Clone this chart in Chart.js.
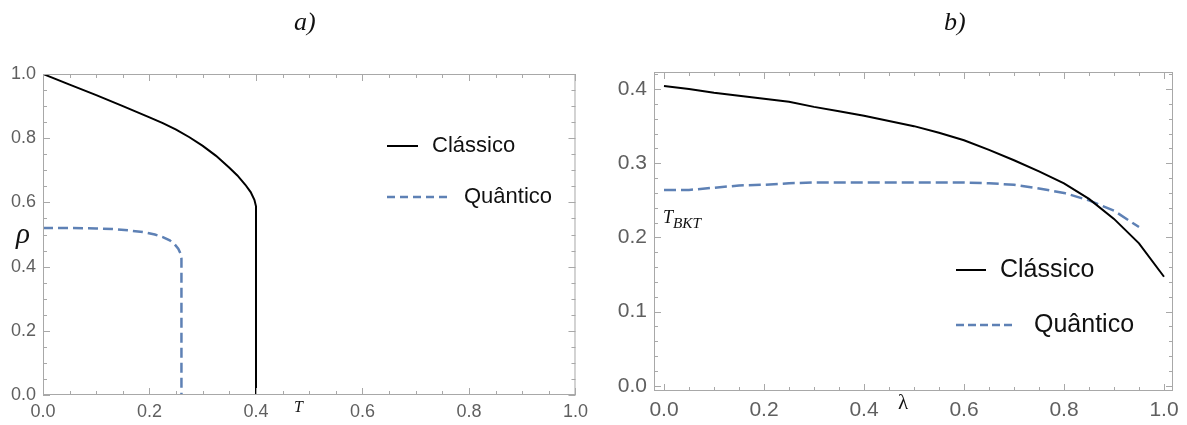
<!DOCTYPE html>
<html>
<head>
<meta charset="utf-8">
<script src="https://cdn.jsdelivr.net/npm/chart.js@4.4.0/dist/chart.umd.min.js"></script>
<style>
  body { margin: 0; background: #fff; width: 1187px; height: 425px; position: relative; overflow: hidden; }
  canvas { position: absolute; top: 0; }
  .m { position: absolute; font-family: "Liberation Serif", serif; font-style: italic; color: #111; line-height: 1; white-space: nowrap; }
  .m sub { font-size: 0.85em; vertical-align: -0.3em; }
</style>
</head>
<body>
<canvas id="chartA" width="594" height="425" style="left:0"></canvas>
<canvas id="chartB" width="593" height="425" style="left:594px"></canvas>

<div class="m" style="left:294px; top:9px; font-size:26px">a)</div>
<div class="m" style="left:944px; top:9px; font-size:26px">b)</div>
<div class="m" style="left:16px; top:219px; font-size:29px">ρ</div>
<div class="m" style="left:294px; top:399px; font-size:16px">T</div>
<div class="m" style="left:898px; top:392px; font-size:21px; font-style:normal">λ</div>
<div class="m" style="left:663px; top:208px; font-size:18px">T<sub>BKT</sub></div>

<script>
// painel a) : rho x T
const tempClassico = [0, 0.05, 0.1, 0.15, 0.2, 0.225, 0.25, 0.275, 0.3, 0.325, 0.35, 0.365, 0.38, 0.39, 0.397, 0.4, 0.4];
const rhoClassico  = [1.0, 0.967, 0.934, 0.9, 0.865, 0.847, 0.827, 0.803, 0.776, 0.745, 0.708, 0.684, 0.655, 0.632, 0.608, 0.588, 0];
const tempQuantico = [0, 0.05, 0.1, 0.13, 0.16, 0.19, 0.21, 0.225, 0.238, 0.247, 0.254, 0.258, 0.26, 0.26];
const rhoQuantico  = [0.52, 0.52, 0.519, 0.517, 0.513, 0.507, 0.5, 0.492, 0.482, 0.47, 0.456, 0.442, 0.425, 0];

// painel b) : T_BKT x lambda
const lambdaClassico = [0, 0.05, 0.1, 0.15, 0.2, 0.25, 0.3, 0.35, 0.4, 0.45, 0.5, 0.55, 0.6, 0.65, 0.7, 0.75, 0.8, 0.85, 0.9, 0.95, 1.0];
const tbktClassico   = [0.404, 0.4, 0.395, 0.391, 0.387, 0.383, 0.376, 0.37, 0.364, 0.357, 0.35, 0.341, 0.331, 0.318, 0.304, 0.289, 0.273, 0.252, 0.225, 0.192, 0.147];
const lambdaQuantico = [0, 0.05, 0.1, 0.15, 0.2, 0.25, 0.3, 0.35, 0.4, 0.45, 0.5, 0.55, 0.6, 0.65, 0.7, 0.75, 0.8, 0.85, 0.9, 0.95];
const tbktQuantico   = [0.264, 0.264, 0.267, 0.27, 0.271, 0.273, 0.274, 0.274, 0.274, 0.274, 0.274, 0.274, 0.274, 0.273, 0.271, 0.266, 0.26, 0.25, 0.236, 0.214];

const seriesNames = ['Clássico', 'Quântico'];
const ticksAx = [0, 0.2, 0.4, 0.6, 0.8, 1.0];
const ticksAy = [0, 0.2, 0.4, 0.6, 0.8, 1.0];
const ticksBx = [0, 0.2, 0.4, 0.6, 0.8, 1.0];
const ticksBy = [0, 0.1, 0.2, 0.3, 0.4];

const BLUE = '#5e81b5';
const GREY = '#a8a8a8';
const LABEL = '#5f5f5f';

const toPoints = (xs, ys) => xs.map((x, i) => ({ x: x, y: ys[i] }));

function steps(from, to, step) {
    const out = [];
    const n = Math.round((to - from) / step);
    for (let i = 0; i <= n; i++) out.push(+(from + i * step).toFixed(4));
    return out;
}

// moldura com marcas para dentro (estilo Mathematica) + legenda dentro do grafico
const framePlugin = {
    id: 'frame',
    afterDatasetsDraw(chart, args, opts) {
        const { ctx, chartArea: a } = chart;
        const x = chart.scales.x, y = chart.scales.y;
        ctx.save();
        ctx.strokeStyle = GREY;
        ctx.lineWidth = 1;
        ctx.strokeRect(a.left + 0.5, a.top + 0.5, a.right - a.left - 1, a.bottom - a.top - 1);
        ctx.beginPath();
        steps(opts.x[0], opts.x[1], opts.x[2]).forEach(v => {
            const px = Math.round(x.getPixelForValue(v)) + 0.5;
            const len = opts.majorX.includes(v) ? 7 : 4;
            ctx.moveTo(px, a.bottom); ctx.lineTo(px, a.bottom - len);
            ctx.moveTo(px, a.top); ctx.lineTo(px, a.top + len);
        });
        steps(opts.y[0], opts.y[1], opts.y[2]).forEach(v => {
            const py = Math.round(y.getPixelForValue(v)) + 0.5;
            const len = opts.majorY.includes(v) ? 7 : 4;
            ctx.moveTo(a.left, py); ctx.lineTo(a.left + len, py);
            ctx.moveTo(a.right, py); ctx.lineTo(a.right - len, py);
        });
        ctx.stroke();

        const lg = opts.legend;
        ctx.font = lg.size + 'px "Liberation Sans", Arial, sans-serif';
        ctx.textBaseline = 'middle';
        ctx.fillStyle = '#111';
        chart.data.datasets.forEach((ds, i) => {
            const yy = a.top + lg.rows[i];
            const x0 = a.left + lg.x;
            ctx.strokeStyle = ds.borderColor;
            ctx.lineWidth = ds.borderWidth;
            ctx.setLineDash(lg.dash[i]);
            ctx.beginPath();
            ctx.moveTo(x0, yy);
            ctx.lineTo(x0 + lg.sample[i], yy);
            ctx.stroke();
            ctx.setLineDash([]);
            ctx.fillText(ds.label, x0 + lg.text[i], yy);
        });
        ctx.restore();
    }
};

function axis(min, max, majors, size, pad, fit) {
    return {
        type: 'linear',
        min: min,
        max: max,
        afterBuildTicks: s => { s.ticks = majors.map(v => ({ value: v })); },
        afterFit: fit,
        ticks: {
            callback: v => v.toFixed(1),
            color: LABEL,
            font: { family: 'Liberation Sans', size: size },
            padding: pad,
            maxRotation: 0,
            autoSkip: false
        },
        grid: { display: false, drawTicks: false, tickLength: 0 },
        border: { display: false }
    };
}

const common = {
    responsive: false,
    animation: false,
    devicePixelRatio: 1,
    plugins: { legend: { display: false }, tooltip: { enabled: false } },
    elements: { point: { radius: 0 }, line: { tension: 0 } }
};

new Chart(document.getElementById('chartA'), {
    type: 'line',
    data: {
        datasets: [
            { label: seriesNames[0], data: toPoints(tempClassico, rhoClassico), borderColor: '#000', borderWidth: 2, fill: false },
            { label: seriesNames[1], data: toPoints(tempQuantico, rhoQuantico), borderColor: BLUE, borderWidth: 2.5, borderDash: [10, 5], fill: false }
        ]
    },
    options: Object.assign({}, common, {
        layout: { padding: { top: 74, right: 17, left: 0, bottom: 0 } },
        scales: {
            x: axis(0, 1, ticksAx, 18, 6, s => { s.height = 30; }),
            y: axis(0, 1, ticksAy, 18, 7, s => { s.width = 43; })
        },
        plugins: Object.assign({}, common.plugins, {
            frame: {
                x: [0, 1, 0.05], y: [0, 1, 0.05], majorX: ticksAx, majorY: ticksAy,
                legend: { x: 344, rows: [72, 123], sample: [31, 61], text: [45, 77], dash: [[], [8, 5]], size: 22 }
            }
        })
    }),
    plugins: [framePlugin]
});

new Chart(document.getElementById('chartB'), {
    type: 'line',
    data: {
        datasets: [
            { label: seriesNames[0], data: toPoints(lambdaClassico, tbktClassico), borderColor: '#000', borderWidth: 2, fill: false },
            { label: seriesNames[1], data: toPoints(lambdaQuantico, tbktQuantico), borderColor: BLUE, borderWidth: 2.5, borderDash: [12, 5], fill: false }
        ]
    },
    options: Object.assign({}, common, {
        layout: { padding: { top: 72, right: 14, left: 0, bottom: 0 } },
        scales: {
            x: axis(-0.02, 1.018, ticksBx, 21, 7, s => { s.height = 34; }),
            y: axis(-0.007, 0.423, ticksBy, 21, 7, s => { s.width = 60; })
        },
        plugins: Object.assign({}, common.plugins, {
            frame: {
                x: [0, 1, 0.05], y: [0, 0.42, 0.02], majorX: ticksBx, majorY: ticksBy,
                legend: { x: 302, rows: [198, 253], sample: [30, 57], text: [44, 78], dash: [[], [8, 4]], size: 25 }
            }
        })
    }),
    plugins: [framePlugin]
});
</script>
</body>
</html>
